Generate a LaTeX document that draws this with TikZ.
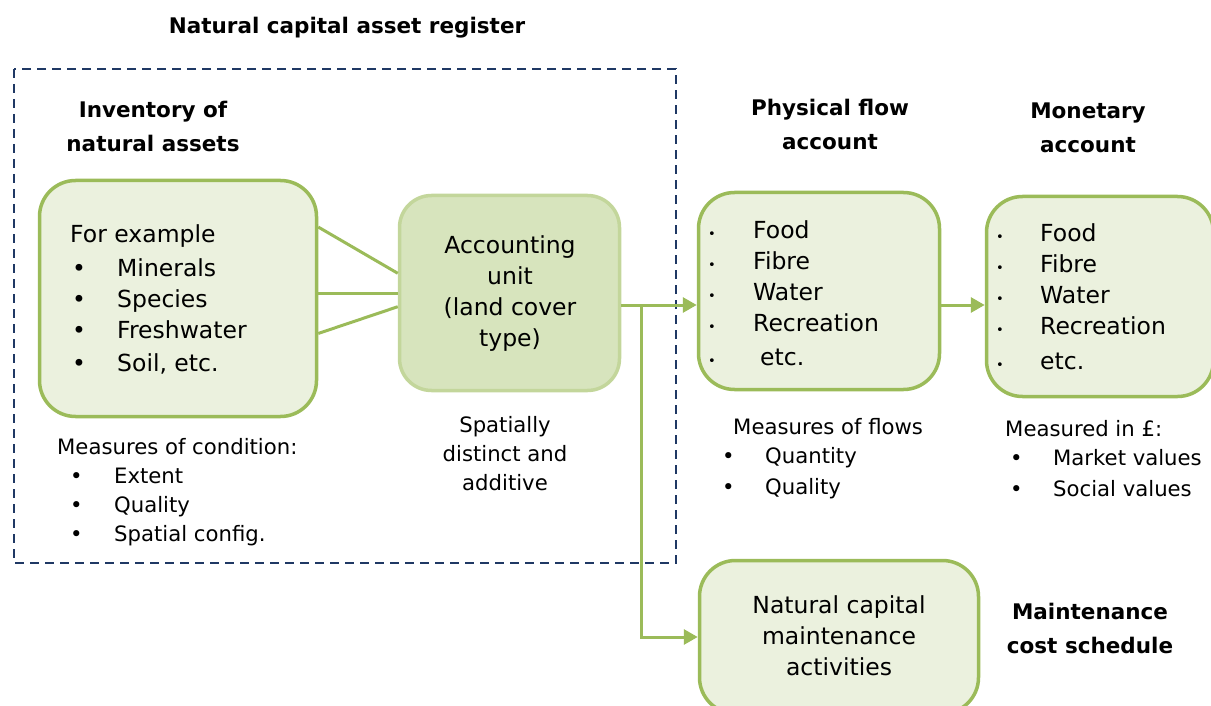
\documentclass[tikz,border=0pt]{standalone}
\usepackage{fontspec}
\setmainfont{DejaVu Sans}
\usetikzlibrary{arrows.meta}
\definecolor{leaf}{HTML}{9BBB59}
\definecolor{leafpale}{HTML}{EBF1DE}
\definecolor{leafmid}{HTML}{D7E4BD}
\definecolor{leaflight}{HTML}{C3D69B}
\definecolor{navy}{HTML}{1F3864}
\begin{document}
\begin{tikzpicture}[x=1pt,y=-1pt,
    box/.style={draw=leaf,line width=3.5pt,fill=leafpale,rounded corners=36pt},
    hd/.style={font=\fontsize{21.5}{34}\selectfont\bfseries,align=center,inner sep=0pt},
    tx/.style={font=\fontsize{23.5}{31}\selectfont,align=left,inner sep=0pt},
    sm/.style={font=\fontsize{21.2}{29}\selectfont,align=left,inner sep=0pt},
    link/.style={draw=leaf,line width=3pt},
    flow/.style={link,-{Triangle[length=14pt,width=15pt]}}]
\useasboundingbox (0,0) rectangle (1211,706);
\draw[navy,line width=2pt,dash pattern=on 9pt off 6pt] (14,69) rectangle (676,563);
\node[hd] (reg) at (347,28) {Natural capital asset register};
\node[hd] (invhd) at (153,126) {Inventory of\\natural assets};
\node[hd] (physhd) at (830,124) {Physical flow\\account};
\node[hd] (monhd) at (1088,128) {Monetary\\account};
\node[hd] (mainthd) at (1090,628) {Maintenance\\cost schedule};
\node[box,minimum width=277pt,minimum height=236pt] (inv) at (178,298.5) {};
\node[box,draw=leaflight,fill=leafmid,rounded corners=32pt,
    minimum width=220pt,minimum height=195pt] (acc) at (509.5,293) {};
\node[box,minimum width=241pt,minimum height=197pt] (phys) at (819,291) {};
\node[box,minimum width=227pt,minimum height=200pt] (mon) at (1100,296.5) {};
\node[box,minimum width=279pt,minimum height=153pt] (maint) at (839,637) {};
\node[tx,anchor=north west] (invtxt) at (70,224) {For example\\[3pt]
    \makebox[47pt][l]{\hspace{2pt}\textbullet}Minerals\\
    \makebox[47pt][l]{\hspace{2pt}\textbullet}Species\\
    \makebox[47pt][l]{\hspace{2pt}\textbullet}Freshwater\\[2pt]
    \makebox[47pt][l]{\hspace{2pt}\textbullet}Soil, etc.};
\node[tx,align=center] (acctxt) at (510,294) {Accounting\\unit\\(land cover\\type)};
\node[tx,anchor=north west] (phystxt) at (708,220) {%
    \makebox[45pt][l]{\fontsize{13}{13}\selectfont\textbullet}Food\\
    \makebox[45pt][l]{\fontsize{13}{13}\selectfont\textbullet}Fibre\\
    \makebox[45pt][l]{\fontsize{13}{13}\selectfont\textbullet}Water\\
    \makebox[45pt][l]{\fontsize{13}{13}\selectfont\textbullet}Recreation\\[3pt]
    \makebox[52pt][l]{\fontsize{13}{13}\selectfont\textbullet}etc.};
\node[tx,anchor=north west] (montxt) at (996,223) {%
    \makebox[44pt][l]{\fontsize{13}{13}\selectfont\textbullet}Food\\
    \makebox[44pt][l]{\fontsize{13}{13}\selectfont\textbullet}Fibre\\
    \makebox[44pt][l]{\fontsize{13}{13}\selectfont\textbullet}Water\\
    \makebox[44pt][l]{\fontsize{13}{13}\selectfont\textbullet}Recreation\\[4pt]
    \makebox[44pt][l]{\fontsize{13}{13}\selectfont\textbullet}etc.};
\node[tx,align=center] (mainttxt) at (839,636) {Natural capital\\maintenance\\activities};
\node[sm,anchor=north west] (cond) at (57,438) {Measures of condition:\\
    \makebox[57pt][l]{\hspace{13pt}\textbullet}Extent\\
    \makebox[57pt][l]{\hspace{13pt}\textbullet}Quality\\
    \makebox[57pt][l]{\hspace{13pt}\textbullet}Spatial config.};
\node[sm,align=center] (spat) at (505,454) {Spatially\\distinct and\\additive};
\node[sm,anchor=north west] (flows) at (720,418) {\hspace*{13pt}Measures of flows\\
    \makebox[45pt][l]{\hspace{2pt}\textbullet}Quantity\\[2pt]
    \makebox[45pt][l]{\hspace{2pt}\textbullet}Quality};
\node[sm,anchor=north west] (money) at (1005,420) {Measured in £:\\
    \makebox[48pt][l]{\hspace{5pt}\textbullet}Market values\\[2pt]
    \makebox[48pt][l]{\hspace{5pt}\textbullet}Social values};
\coordinate (split) at (641,305);
\draw[link] (inv.27) -- (acc.170);
\draw[link] (acc.west) -- (acc.west -| inv.east);
\draw[link] (inv.-14) -- (acc.187);
\draw[flow] (acc.east |- split) -- (phys.west |- split);
\draw[flow] (phys.east |- split) -- (mon.west |- split);
\draw[flow] (split) |- (maint.west);
\end{tikzpicture}
\end{document}
